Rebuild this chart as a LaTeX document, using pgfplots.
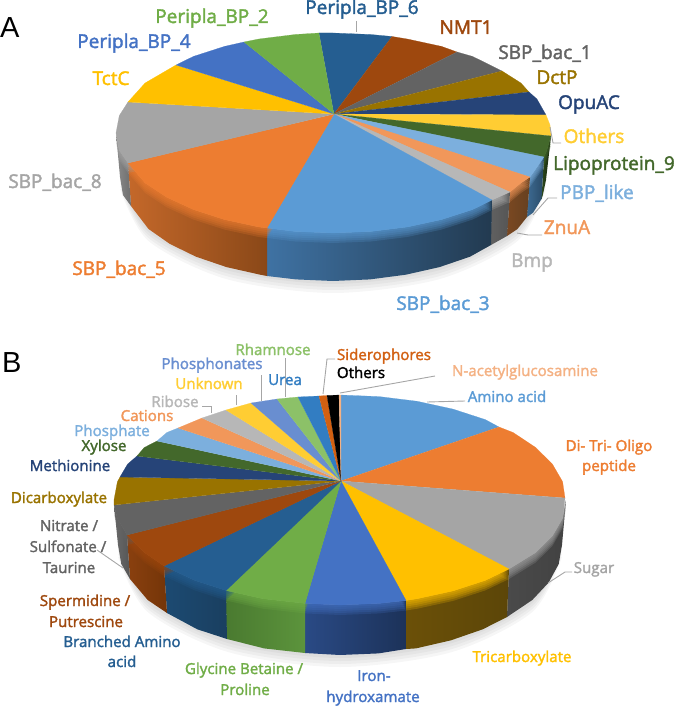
\documentclass[border=0pt]{standalone}
\usepackage{fontspec}
\usepackage{pgfplots}
\pgfplotsset{compat=1.18}
\newfontfamily\labf{Open Sans}[FakeBold=2]
\newfontfamily\panf{Liberation Sans}
% office chart palette
\definecolor{cA}{HTML}{5B9BD5}\definecolor{cB}{HTML}{ED7D31}\definecolor{cC}{HTML}{A5A5A5}
\definecolor{cD}{HTML}{FFC000}\definecolor{cE}{HTML}{4472C4}\definecolor{cF}{HTML}{70AD47}
\definecolor{cG}{HTML}{255E91}\definecolor{cH}{HTML}{9E480E}\definecolor{cI}{HTML}{636363}
\definecolor{cJ}{HTML}{997300}\definecolor{cK}{HTML}{264478}\definecolor{cL}{HTML}{43682B}
\definecolor{cM}{HTML}{7CAFDD}\definecolor{cN}{HTML}{F1975A}\definecolor{cO}{HTML}{B7B7B7}
\definecolor{cP}{HTML}{FFCD33}\definecolor{cQ}{HTML}{698ED0}\definecolor{cR}{HTML}{8CC168}
\definecolor{cS}{HTML}{327DC2}\definecolor{cT}{HTML}{D26012}\definecolor{cU}{HTML}{F4B183}
\definecolor{lead}{HTML}{A6A6A6}
% wall shades
\newcommand{\hx}[1]{\definecolor{x#1}{HTML}{#1}}
\hx{2D4A1C}\hx{14210C}\hx{3C6A92}\hx{2A4A66}\hx{7A4822}\hx{66401F}\hx{606060}\hx{555555}
\hx{3F72A3}\hx{223A50}\hx{C4682A}\hx{8A4818}\hx{8A8A8A}\hx{6E6E6E}\hx{4A4A4A}\hx{424242}
\hx{6B5008}\hx{5C4608}\hx{1C3259}\hx{2A4A85}\hx{4A7A30}\hx{5C943C}\hx{1C4A72}\hx{1A3F60}
\hx{8A400F}\hx{743508}\hx{6A6A6A}
\newcommand{\slice}[2]{\addplot[fill=#1,draw=#1,line width=0.2pt] coordinates {#2};}
% apex, main colour, left and right wall colour, top arc, bottom arc backwards
\newcommand{\wall}[6]{%
  \addplot[left color=x#3,right color=x#4,draw=none] coordinates {#5 #6};
  \addplot[fill=#2,draw=none,opacity=0.22,yshift=-10pt] coordinates {(#1) #5};
  \addplot[fill=#2,draw=none,opacity=0.22,yshift=-8pt] coordinates {(#1) #5};
  \addplot[fill=#2,draw=none,opacity=0.22,yshift=-6pt] coordinates {(#1) #5};
  \addplot[fill=#2,draw=none,opacity=0.22,yshift=-4pt] coordinates {(#1) #5};
  \addplot[fill=#2,draw=none,opacity=0.22,yshift=-2pt] coordinates {(#1) #5};}
\newcommand{\shadow}[1]{%
  \addplot[fill=black,draw=none,opacity=0.035,smooth,yshift=-3pt] coordinates {#1};
  \addplot[fill=black,draw=none,opacity=0.035,smooth,yshift=-6pt] coordinates {#1};
  \addplot[fill=black,draw=none,opacity=0.035,smooth,yshift=-9pt] coordinates {#1};
  \addplot[fill=black,draw=none,opacity=0.035,smooth,yshift=-12pt] coordinates {#1};}
\newcommand{\leader}[1]{\addplot[draw=lead,line width=0.9pt] coordinates {#1};}
\newcommand{\la}[4]{\node[anchor=base,text=#3,inner sep=0pt,font=\labf\fontsize{19}{19}\selectfont] at (axis cs:#1,#2) {#4};}
\newcommand{\lb}[4]{\node[anchor=base,text=#3,inner sep=0pt,font=\labf\fontsize{15.1}{15.1}\selectfont] at (axis cs:#1,#2) {#4};}
\begin{document}
\begin{tikzpicture}
\begin{axis}[scale only axis, width=675pt, height=706pt, xmin=0, xmax=675, ymin=0, ymax=706,
    y dir=reverse, hide axis, clip=false]
% ---- pie A
\shadow{(546,177) (517.5,229) (439.5,267.1) (333,281) (226.5,267.1) (148.5,229) (120,177)}
\wall{334,114}{cL}{2D4A1C}{14210C}{(551,136) (546.7,150.4) (544,157)}{(541.5,199) (542.8,195.1) (546,180)}
\wall{334,114}{cM}{3C6A92}{2A4A66}{(544,157) (536.9,167.2) (530,177)}{(527,217) (533.2,212.6) (541.5,199)}
\wall{334,114}{cN}{7A4822}{66401F}{(530,177) (520.9,183) (510,192)}{(507,236) (517.5,229) (527,217)}
\wall{334,114}{cO}{606060}{555555}{(510,192) (492,200)}{(491,245) (507,236)}
\wall{334,114}{cA}{3F72A3}{223A50}{(492,200) (472.5,209.6) (441.5,219.6) (407.2,227) (370.7,231.5) (333,233) (295.3,231.5) (267,228)}{(267,276) (296,279.4) (333,281) (370,279.4) (405.8,274.7) (439.5,267.1) (470,256.7) (491,245)}
\wall{334,114}{cB}{C4682A}{8A4818}{(267,228) (258.8,227) (224.5,219.6) (193.5,209.6) (166.8,197.3) (145.1,183) (128,163)}{(131,206) (148.5,229) (169.8,243.9) (196,256.7) (226.5,267.1) (260.2,274.7) (267,276)}
\wall{334,114}{cC}{8A8A8A}{6E6E6E}{(128,163) (119.3,150.4) (116,133)}{(120,177) (123,195.1) (131,206)}
\slice{cG}{(334,114) (319,33) (333,33) (370.7,34.5) (392,36.5)}
\slice{cH}{(334,114) (392,36.5) (407.2,39) (441.5,46.4) (457,52)}
\slice{cI}{(334,114) (457,52) (472.5,56.4) (502,71)}
\slice{cJ}{(334,114) (502,71) (520.9,83) (529,92)}
\slice{cK}{(334,114) (529,92) (536.9,99) (546,115)}
\slice{cP}{(334,114) (546,115) (550,125) (551,136)}
\slice{cL}{(334,114) (551,136) (546.7,150.4) (544,157)}
\slice{cM}{(334,114) (544,157) (536.9,167.2) (530,177)}
\slice{cN}{(334,114) (530,177) (520.9,183) (510,192)}
\slice{cO}{(334,114) (510,192) (492,200)}
\slice{cA}{(334,114) (492,200) (472.5,209.6) (441.5,219.6) (407.2,227) (370.7,231.5) (333,233) (295.3,231.5) (267,228)}
\slice{cB}{(334,114) (267,228) (258.8,227) (224.5,219.6) (193.5,209.6) (166.8,197.3) (145.1,183) (128,163)}
\slice{cC}{(334,114) (128,163) (119.3,150.4) (116,133) (119.3,115.6) (128,102)}
\slice{cD}{(334,114) (128,102) (145.1,83) (176,65)}
\slice{cE}{(334,114) (176,65) (193.5,56.4) (224.5,46.4) (244,42)}
\slice{cF}{(334,114) (244,42) (258.8,39) (295.3,34.5) (319,33)}
\leader{(356,21) (356,32)}
\leader{(550,127) (553,143) (561,143)}
\leader{(533,215) (548,198) (557,198)}
\leader{(517,233) (528,235) (542,235)}
% ---- pie B
\shadow{(562,545) (532.3,600) (451,640.3) (340,655) (229,640.3) (147.7,600) (118,545)}
\wall{341,481}{cC}{4A4A4A}{424242}{(566,500) (562.6,518.3) (552.4,535.9) (535.7,552.5) (509,569)}{(507,617) (532.3,600) (548.6,582.6) (558.7,564.1) (562,545)}
\wall{341,481}{cD}{6B5008}{5C4608}{(509,569) (485.3,580.4) (453,590.9) (417.3,598.7) (406,600.5)}{(406,649) (415.9,648.4) (451,640.3) (482.7,629.3) (507,617)}
\wall{341,481}{cE}{2A4A85}{1C3259}{(406,600.5) (379.3,603.4) (340,605) (305,603.4)}{(305,653) (340,655) (378.5,653.4) (406,649)}
\wall{341,481}{cF}{4A7A30}{5C943C}{(305,603.4) (262.7,598.7) (226,590.5)}{(227,639) (264.1,648.4) (305,653)}
\wall{341,481}{cG}{1C4A72}{1A3F60}{(226,590.5) (194.7,580.4) (164,566)}{(167,613) (197.3,629.3) (227,639)}
\wall{341,481}{cH}{8A400F}{743508}{(164,566) (144.3,552.5) (127,535)}{(130,579) (147.7,600) (167,613)}
\wall{341,481}{cI}{6A6A6A}{555555}{(127,535) (117.4,518.3) (114,505)}{(118,545) (121.3,564.1) (130,579)}
\slice{cA}{(341,481) (341,395) (379.3,396.6) (417.3,401.3) (453,409.1) (485.3,419.6) (499,427)}
\slice{cB}{(341,481) (499,427) (513.1,432.5) (535.7,447.5) (552.4,464.1) (562.6,481.7) (565,498)}
\slice{cC}{(341,481) (565,498) (562.6,518.3) (552.4,535.9) (535.7,552.5) (509,569)}
\slice{cD}{(341,481) (509,569) (485.3,580.4) (453,590.9) (417.3,598.7) (406,600.5)}
\slice{cE}{(341,481) (406,600.5) (379.3,603.4) (340,605) (305,603.4)}
\slice{cF}{(341,481) (305,603.4) (262.7,598.7) (226,590.5)}
\slice{cG}{(341,481) (226,590.5) (194.7,580.4) (164,566)}
\slice{cH}{(341,481) (164,566) (144.3,552.5) (127,535)}
\slice{cI}{(341,481) (127,535) (117.4,518.3) (114,505)}
\slice{cJ}{(341,481) (114,505) (114,500) (117.4,481.7) (120,477)}
\slice{cK}{(341,481) (120,477) (127.6,464.1) (137,456)}
\slice{cL}{(341,481) (137,456) (144.3,447.5) (157,441)}
\slice{cM}{(341,481) (157,441) (166.9,432.5) (178,428)}
\slice{cN}{(341,481) (178,428) (202,418)}
\slice{cO}{(341,481) (202,418) (226,410)}
\slice{cP}{(341,481) (226,410) (251,403)}
\slice{cQ}{(341,481) (251,403) (277,399)}
\slice{cR}{(341,481) (277,399) (298,397)}
\slice{cS}{(341,481) (298,397) (319,396)}
\slice{cT}{(341,481) (319,396) (327,395.5)}
\slice{black}{(341,481) (327,395.5) (339,395)}
\slice{cU}{(341,481) (339,395) (341,395)}
\leader{(261,401) (261,375)}
\leader{(285,397) (285,358)}
\leader{(202,406) (211,406) (211,413)}
\leader{(236,405) (236,395)}
\leader{(323,394) (327,359) (335,359)}
\leader{(340,393) (435,376)}
\leader{(427,402) (465,401)}
\leader{(548,583) (565,572) (572,572)}
\leader{(123,568) (97,550)}
% ---- labels
\node[anchor=base west,inner sep=0pt,font=\panf\fontsize{29}{29}\selectfont] at (axis cs:0,38) {A};
\node[anchor=base west,inner sep=0pt,font=\panf\fontsize{29}{29}\selectfont] at (axis cs:2,372) {B};
\la{212}{23}{cF}{Peripla\_BP\_2}
\la{134}{48}{cE}{Peripla\_BP\_4}
\la{362}{14}{cG}{Peripla\_BP\_6}
\la{111}{85}{cD}{TctC}
\la{55}{188}{cC}{SBP\_bac\_8}
\la{119}{275}{cB}{SBP\_bac\_5}
\la{443}{310}{cA}{SBP\_bac\_3}
\la{532}{267}{cO}{Bmp}
\la{567}{234}{cN}{ZnuA}
\la{597}{199}{cM}{PBP\_like}
\la{614}{170}{cL}{Lipoprotein\_9}
\la{594}{143}{cP}{Others}
\la{589}{109}{cK}{OpuAC}
\la{557}{84}{cJ}{DctP}
\la{545}{59}{cI}{SBP\_bac\_1}
\la{466}{34}{cH}{NMT1}
\lb{273}{355}{cR}{Rhamnose}
\lb{212}{369}{cQ}{Phosphonates}
\lb{285}{385}{cS}{Urea}
\lb{209}{389}{cP}{Unknown}
\lb{175}{407}{cO}{Ribose}
\lb{147}{421}{cN}{Cations}
\lb{112}{436}{cM}{Phosphate}
\lb{104}{451}{cL}{Xylose}
\lb{70}{471}{cK}{Methionine}
\lb{59}{503}{cJ}{Dicarboxylate}
\lb{69}{531}{cI}{Nitrate /}
\lb{68}{552}{cI}{Sulfonate /}
\lb{69}{573}{cI}{Taurine}
\lb{85}{606}{cH}{Spermidine /}
\lb{86}{627}{cH}{Putrescine}
\lb{122}{647}{cG}{Branched Amino}
\lb{122}{667}{cG}{acid}
\lb{244}{674}{cF}{Glycine Betaine /}
\lb{245}{695}{cF}{Proline}
\lb{374}{681}{cE}{Iron-}
\lb{373}{702}{cE}{hydroxamate}
\lb{522}{662}{cD}{Tricarboxylate}
\lb{594}{573}{cC}{Sugar}
\lb{609}{451}{cB}{Di- Tri- Oligo}
\lb{609}{471}{cB}{peptide}
\lb{507}{402}{cA}{Amino acid}
\lb{525}{376}{cU}{N-acetylglucosamine}
\lb{384}{360}{cT}{Siderophores}
\lb{361}{378}{black}{Others}
\end{axis}
\pgfresetboundingbox
\path[use as bounding box] (0,0) rectangle (675pt,706pt);
\end{tikzpicture}
\end{document}
